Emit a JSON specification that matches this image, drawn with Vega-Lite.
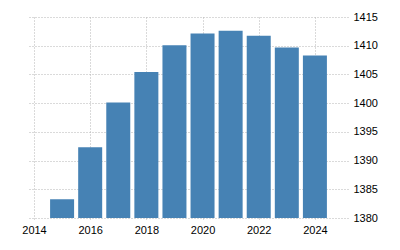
{
  "$schema": "https://vega.github.io/schema/vega-lite/v6.json",
  "width": 319,
  "height": 201,
  "autosize": {"type": "none"},
  "padding": {"left": 29, "top": 17, "right": 52, "bottom": 32},
  "background": "white",
  "config": {
    "view": {"stroke": null},
    "axis": {
      "labelFont": "Liberation Sans",
      "labelFontSize": 11,
      "labelColor": "#000000",
      "gridColor": "#b4b4b4",
      "gridDash": [1, 2],
      "gridWidth": 1,
      "gridOpacity": 1,
      "domain": false,
      "title": null
    }
  },
  "data": {
    "values": [
      {"year": 2015, "population": 1383.26},
      {"year": 2016, "population": 1392.32},
      {"year": 2017, "population": 1400.11},
      {"year": 2018, "population": 1405.41},
      {"year": 2019, "population": 1410.08},
      {"year": 2020, "population": 1412.12},
      {"year": 2021, "population": 1412.60},
      {"year": 2022, "population": 1411.75},
      {"year": 2023, "population": 1409.67},
      {"year": 2024, "population": 1408.28}
    ]
  },
  "mark": {"type": "bar", "size": 24, "color": "#4682b4", "clip": true},
  "encoding": {
    "x": {
      "field": "year",
      "type": "quantitative",
      "scale": {"domain": [2014, 2025], "nice": false, "zero": false},
      "axis": {
        "values": [2014, 2016, 2018, 2020, 2022, 2024],
        "format": "d",
        "grid": true,
        "ticks": true,
        "tickSize": 3,
        "tickColor": "#b4b4b4",
        "tickDash": [1, 2],
        "labelPadding": 3,
        "labelFlush": false
      }
    },
    "y": {
      "field": "population",
      "type": "quantitative",
      "scale": {"domain": [1380, 1415], "nice": false, "zero": false},
      "axis": {
        "orient": "right",
        "values": [1380, 1385, 1390, 1395, 1400, 1405, 1410, 1415],
        "format": "d",
        "grid": true,
        "ticks": false,
        "labelPadding": 5
      }
    }
  }
}
